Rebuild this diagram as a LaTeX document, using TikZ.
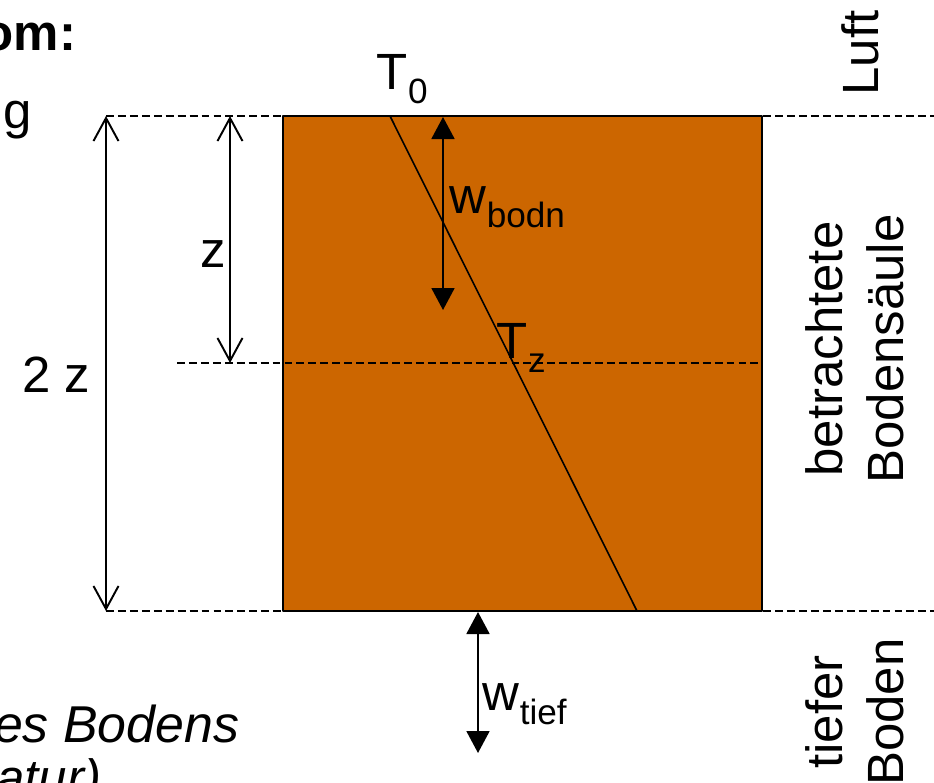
\documentclass[tikz,border=0pt]{standalone}
\usepackage{fontspec}
\setmainfont{Liberation Sans}
\usepackage{xcolor}
\usetikzlibrary{arrows.meta,positioning}
\definecolor{bodenrot}{RGB}{204,102,0}
\newcommand{\lowtxt}[1]{\raisebox{-8.5pt}{\fontsize{20}{20}\selectfont #1}}
\tikzset{
  lbl/.style={inner sep=0pt, font=\fontsize{29}{35}\selectfont},
  vlbl/.style={lbl, rotate=90, align=center},
  grenze/.style={line width=1.3pt, line cap=butt, dash pattern=on 4.5pt off 2.3pt},
  massp/.style={{Straight Barb[length=0.46cm,width=0.5cm]}-{Straight Barb[length=0.46cm,width=0.5cm]}},
  flussp/.style={{Triangle[length=0.44cm,width=0.46cm]}-{Triangle[length=0.44cm,width=0.46cm]}},
  every picture/.style={line cap=round, line join=round}
}

\begin{document}
\begin{tikzpicture}[x=0.02cm, y=-0.02cm, line width=1.1pt]
  \useasboundingbox (0,0) rectangle (934,782);
  % Bodensaeule
  \coordinate (obl) at (283,116);
  \coordinate (unr) at (762,611);
  \draw[fill=bodenrot, line width=1.4pt] (obl) rectangle (unr);

  % Grenzen
  \coordinate (ol) at (106,116);
  \coordinate (or) at (940,116);
  \coordinate (ml) at (177,363);
  \coordinate (mr) at (762,363);
  \coordinate (ul) at (106,611);
  \coordinate (ur) at (940,611);
  \draw[grenze] (ol) -- (or);
  \draw[grenze] (ml) -- (mr);
  \draw[grenze] (ul) -- (ur);

  % Temperaturprofil
  \coordinate (tob) at (390,116);
  \coordinate (tun) at (637,611);
  \draw[line width=0.9pt] (tob) -- (tun);

  % Masse
  \coordinate (zo) at (230,116);
  \coordinate (zu) at (230,363);
  \draw[massp] (ol) -- (ul);
  \draw[massp] (zo) -- (zu);

  % Fluesse
  \coordinate (wbo) at (443,117);
  \coordinate (wbu) at (443,310);
  \coordinate (wto) at (478,612);
  \coordinate (wtu) at (478,753);
  \draw[flussp] (wbo) -- (wbu);
  \draw[flussp] (wto) -- (wtu);

  % Beschriftung
  \node[lbl, anchor=base] (zzlab) at (56,392) {2 z};
  \node[lbl, anchor=base] (zlab) at (213,267) {z};
  \node[lbl, anchor=base west] (tnull) at (376,89) {T\lowtxt{0}};
  \node[lbl, anchor=base west] (tz) at (496,358) {T\lowtxt{z}};
  \node[lbl, anchor=base west] (wbodn) at (449,213) {w\lowtxt{bodn}};
  \node[lbl, anchor=base west] (wtief) at (482,710) {w\lowtxt{tief}};
  \node[lbl, rotate=90, anchor=base] (luft) at (878,53) {Luft};
  \node[vlbl] (saeule) at (855,349) {betrachtete\\Bodensäule};
  \node[vlbl] (tiefboden) at (855,712) {tiefer\\Boden};

  % angeschnittener Text
  \node[lbl, anchor=base east, font=\fontsize{29}{35}\selectfont\bfseries] (titel) at (77,50) {om:};
  \node[lbl, anchor=base east] (gfrag) at (33,128) {g};
  \node[lbl, anchor=base east, font=\fontsize{29.5}{35}\selectfont\itshape] (bodfrag) at (240,742) {des Bodens};
  \node[lbl, anchor=base east, font=\fontsize{29}{35}\selectfont\itshape] (ratfrag) at (102,795) {ratur)};
\end{tikzpicture}
\end{document}
